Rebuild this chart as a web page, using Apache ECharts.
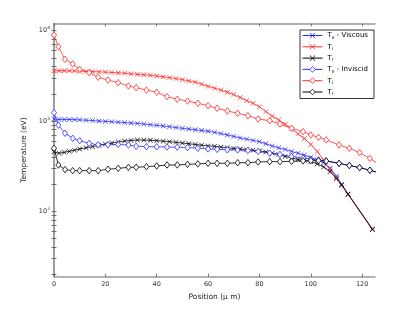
<!DOCTYPE html>
<html>
<head>
<meta charset="utf-8">
<script src="https://cdn.jsdelivr.net/npm/echarts@6/dist/echarts.min.js"></script>
<style>html,body{margin:0;padding:0;background:#fff;}#c{width:415px;height:312px;}</style>
</head>
<body>
<div id="c"></div>
<script>
// Position grids (micrometres)
var xCross = [0, 2, 4, 6, 8, 10, 12.5, 15, 17.5, 20, 22.5, 25, 27.5, 30, 32.5, 35, 37.5, 40, 42.5, 45, 47.5, 50, 52.5, 55, 57.5, 60, 62.5, 65, 67.5, 70, 72.5, 75, 77.5, 80, 82.5, 85, 87.5, 90, 92.5, 95, 97.5, 100, 102.5, 105, 107.5, 110, 112, 114.5, 124];
var xDiamond = [0, 1.7, 4.3, 7.3, 10, 13.7, 17.2, 21, 25, 29, 32, 36, 40, 44, 48, 52, 56, 60, 63.5, 67.5, 71.5, 75.5, 79.5, 84, 88, 92.5, 97, 100, 103, 106, 111, 115, 119, 123, 125.5];

// Viscous (eV)
var teViscous = [1050, 1040, 1040, 1040, 1035, 1030, 1020, 1010, 1000, 990, 980, 970, 960, 950, 940, 925, 910, 895, 880, 865, 845, 830, 815, 800, 785, 770, 750, 725, 700, 675, 650, 630, 610, 590, 560, 530, 505, 485, 460, 440, 420, 395, 370, 345, 300, 245, 200, 155, 63];
var tiViscous = [3600, 3600, 3600, 3590, 3580, 3560, 3540, 3520, 3500, 3480, 3450, 3420, 3380, 3330, 3290, 3250, 3200, 3150, 3090, 3020, 2950, 2870, 2780, 2690, 2560, 2420, 2310, 2200, 2080, 1960, 1820, 1680, 1570, 1440, 1270, 1130, 1030, 920, 820, 720, 640, 550, 460, 370, 290, 235, 195, 155, 64];
var trViscous = [455, 440, 450, 462, 475, 490, 505, 520, 540, 555, 570, 585, 600, 610, 615, 615, 612, 605, 598, 590, 580, 570, 560, 550, 540, 530, 525, 515, 505, 497, 490, 482, 475, 467, 455, 440, 425, 405, 390, 375, 365, 355, 335, 310, 275, 230, 196, 155, 63];

// Inviscid (eV)
var teInviscid = [1236, 900, 731, 643, 605, 566, 545, 545, 550, 542, 525, 520, 518, 515, 512, 508, 500, 490, 485, 480, 478, 472, 460, 440, 425, 405, 390, 378, 370, 362, 340, 322, 305, 285, 273];
var tiInviscid = [8960, 6640, 4820, 4280, 3730, 3430, 3050, 2845, 2656, 2440, 2340, 2200, 2080, 1860, 1740, 1664, 1570, 1478, 1382, 1290, 1217, 1145, 1052, 1008, 926, 830, 762, 700, 660, 617, 542, 499, 446, 386, 345];
var trInviscid = [499, 326, 290, 282, 282, 282, 282, 292, 299, 307, 307, 312, 318, 326, 326, 331, 335, 340, 340, 340, 345, 345, 352, 355, 355, 358, 362, 365, 364, 360, 340, 322, 305, 285, 272];

var xTicks = [0, 20, 40, 60, 80, 100, 120];
var yLabels = [100, 1000, 10000];
var yTicks = [20, 30, 40, 50, 60, 70, 80, 90, 100, 200, 300, 400, 500, 600, 700, 800, 900, 1000, 2000, 3000, 4000, 5000, 6000, 7000, 8000, 9000, 10000];

var BLUE = '#2a2aff', RED = '#ff2a2a', BLACK = '#000000';
var CROSS = 'path://M0,0.8L0.8,0L5,4.2L9.2,0L10,0.8L5.8,5L10,9.2L9.2,10L5,5.8L0.8,10L0,9.2L4.2,5Z';

function pairs(xs, ys) { return xs.map(function (x, i) { return [x, ys[i]]; }); }

function crossSeries(name, ys, c, z) {
  return {
    name: name, type: 'line', data: pairs(xCross, ys), z: z,
    symbol: CROSS, symbolSize: 5, showAllSymbol: true,
    lineStyle: { color: c, width: 0.8 },
    itemStyle: { color: c },
    emphasis: { disabled: true }, animation: false
  };
}
function diamondSeries(name, ys, c, z) {
  return {
    name: name, type: 'line', data: pairs(xDiamond, ys), z: z,
    symbol: 'diamond', symbolSize: [5, 6.5], showAllSymbol: true,
    lineStyle: { color: c, width: 0.8 },
    itemStyle: { color: '#fff', borderColor: c, borderWidth: 0.8 },
    emphasis: { disabled: true }, animation: false
  };
}

var legendText = {
  'Te - Viscous': 'T{s|e} - Viscous',
  'Ti - Viscous': 'T{s|i}',
  'Tr - Viscous': 'T{s|r}',
  'Te - Inviscid': 'T{s|e} - Inviscid',
  'Ti - Inviscid': 'T{s|i}',
  'Tr - Inviscid': 'T{s|r}'
};

function legCross(name, c) {
  return { name: name, itemStyle: { color: c, borderWidth: 0 }, lineStyle: { color: c, width: 1 } };
}
function legDiamond(name, c) {
  return { name: name, itemStyle: { color: '#fff', borderColor: c, borderWidth: 0.8 }, lineStyle: { color: c, width: 1 } };
}

var axisGray = '#999999';
var chart = echarts.init(document.getElementById('c'), null, { renderer: 'canvas' });
chart.setOption({
  animation: false,
  backgroundColor: '#fff',
  grid: { left: 54, right: 40, top: 23.5, bottom: 35.3, containLabel: false },
  legend: {
    orient: 'vertical', left: 300, top: 30,
    width: 76,
    backgroundColor: '#fff', borderColor: '#000', borderWidth: 0.8,
    padding: [2, 6, 2, 2],
    itemWidth: 20, itemHeight: 7, itemGap: 3.3,
    data: [
      legCross('Te - Viscous', BLUE), legCross('Ti - Viscous', RED), legCross('Tr - Viscous', BLACK),
      legDiamond('Te - Inviscid', BLUE), legDiamond('Ti - Inviscid', RED), legDiamond('Tr - Inviscid', BLACK)
    ],
    formatter: function (n) { return legendText[n]; },
    textStyle: {
      fontFamily: 'DejaVu Sans', fontSize: 7, color: '#000',
      rich: { s: { fontFamily: 'DejaVu Sans', fontSize: 4.5, padding: [4, 0, 0, 0] } }
    }
  },
  xAxis: [{
    type: 'value', min: 0, max: 125,
    name: 'Position (\u03bc m)', nameLocation: 'middle', nameGap: 13,
    nameTextStyle: { fontFamily: 'DejaVu Sans', fontSize: 7.5, color: '#222' },
    axisLine: { show: true, lineStyle: { color: axisGray, width: 1.5 } },
    axisTick: { show: true, inside: true, length: 3, customValues: xTicks, lineStyle: { color: '#555', width: 0.8 } },
    axisLabel: { customValues: xTicks, fontFamily: 'DejaVu Sans', fontSize: 6.5, color: '#333', margin: 4 },
    splitLine: { show: false }
  }, {
    type: 'value', min: 0, max: 125, position: 'top',
    axisLine: { show: true, lineStyle: { color: axisGray, width: 1.5 } },
    axisTick: { show: true, inside: true, length: 3, customValues: xTicks, lineStyle: { color: '#555', width: 0.8 } },
    axisLabel: { show: false }, splitLine: { show: false }
  }],
  yAxis: [{
    type: 'log', logBase: 10, min: 18.9, max: 12000,
    name: 'Temperature (eV)', nameLocation: 'middle', nameGap: 20, nameRotate: 90,
    nameTextStyle: { fontFamily: 'DejaVu Sans', fontSize: 7.5, color: '#222' },
    axisLine: { show: true, lineStyle: { color: axisGray, width: 1.5 } },
    axisTick: { show: true, inside: true, length: 2.5, customValues: yTicks, lineStyle: { color: '#555', width: 0.8 } },
    axisLabel: {
      customValues: yLabels, fontFamily: 'DejaVu Sans', fontSize: 6.5, color: '#333', margin: 4,
      formatter: function (v) { return '10{p|' + Math.round(Math.log10(v)) + '}'; },
      rich: { p: { fontSize: 4.5, padding: [0, 0, 5, 0], fontFamily: 'DejaVu Sans', color: '#333' } }
    },
    splitLine: { show: false }
  }, {
    type: 'log', logBase: 10, min: 18.9, max: 12000, position: 'right',
    axisLine: { show: true, lineStyle: { color: axisGray, width: 1.5 } },
    axisTick: { show: true, inside: true, length: 2.5, customValues: yTicks, lineStyle: { color: '#555', width: 0.8 } },
    axisLabel: { show: false }, splitLine: { show: false }
  }],
  series: [
    crossSeries('Te - Viscous', teViscous, BLUE, 2),
    crossSeries('Ti - Viscous', tiViscous, RED, 3),
    crossSeries('Tr - Viscous', trViscous, BLACK, 4),
    diamondSeries('Te - Inviscid', teInviscid, BLUE, 5),
    diamondSeries('Ti - Inviscid', tiInviscid, RED, 6),
    diamondSeries('Tr - Inviscid', trInviscid, BLACK, 7)
  ]
});
</script>
</body>
</html>
